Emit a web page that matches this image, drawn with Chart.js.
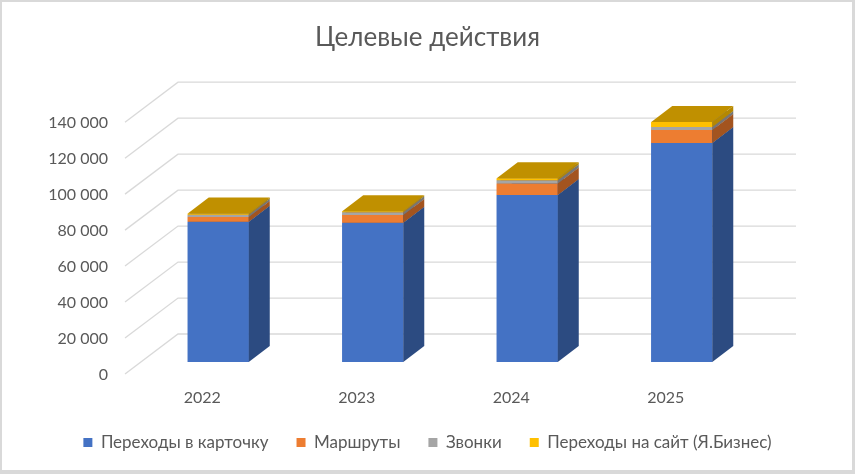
<!DOCTYPE html>
<html>
<head>
<meta charset="utf-8">
<script src="https://cdn.jsdelivr.net/npm/chart.js@4/dist/chart.umd.min.js"></script>
<style>
    html, body { margin: 0; padding: 0; background: #ffffff; }
    #wrap { width: 855px; height: 474px; }
</style>
</head>
<body>
<div id="wrap"><canvas id="chart-area-1" width="855" height="474"></canvas></div>
<script>
/******************************************************************************
* Chart data
******************************************************************************/
var years      = ["2022", "2023", "2024", "2025"];
var card_views = [78000, 77400, 92800, 121800];
var routes     = [2600, 4300, 6500, 7200];
var calls      = [1300, 1500, 1800, 1700];
var site_clicks = [600, 600, 1100, 2800];

var series_names = ["Переходы в карточку", "Маршруты", "Звонки", "Переходы на сайт (Я.Бизнес)"];

/******************************************************************************
* Styles
******************************************************************************/
var FONT       = "Lato, 'Open Sans', sans-serif";
var TEXT_COLOR = "#595959";
var GRID_COLOR = "#d9d9d9";

// faces: front, side, top
var colors = [
    ["#4472c4", "#2c4b81", "#30528e"],
    ["#ed7d31", "#a3541f", "#b25d24"],
    ["#a5a5a5", "#767676", "#7f7f7f"],
    ["#ffc000", "#b58800", "#c09000"]
];

// depth of a bar, and offsets of the floor front edge / back wall from the bar plane
var BAR_DX = 21, BAR_DY = -16;
var BACK_DX = 37, BACK_DY = -28;
var FRONT_DX = -16, FRONT_DY = 12;

function fmt_thousands(v) {
    return String(v).replace(/\B(?=(\d{3})+(?!\d))/g, ' ');
}

/******************************************************************************
* Background with the grey frame
******************************************************************************/
var frame_plugin = {
    id: 'frame',
    beforeDraw: function(chart) {
        var ctx = chart.ctx;
        ctx.save();
        ctx.fillStyle = "#d9d9d9";
        ctx.fillRect(0, 0, chart.width, chart.height);
        ctx.fillStyle = "#ffffff";
        ctx.fillRect(2, 2, chart.width - 5, chart.height - 6);
        ctx.restore();
    }
};

/******************************************************************************
* Back wall and floor gridlines (oblique 3D look)
******************************************************************************/
var grid_plugin = {
    id: 'grid3d',
    beforeDatasetsDraw: function(chart) {
        var ctx = chart.ctx;
        var y_scale = chart.scales.y;
        var area = chart.chartArea;
        ctx.save();
        ctx.strokeStyle = GRID_COLOR;
        ctx.lineWidth = 1.3;
        y_scale.ticks.forEach(function(t) {
            var py = y_scale.getPixelForValue(t.value);
            ctx.beginPath();
            ctx.moveTo(area.left + FRONT_DX, py + FRONT_DY);
            ctx.lineTo(area.left + BACK_DX, py + BACK_DY);
            ctx.lineTo(area.right + BACK_DX, py + BACK_DY);
            ctx.stroke();
        });
        ctx.restore();
    }
};

/******************************************************************************
* Draws each stacked segment as a box: front, right side and top
******************************************************************************/
function poly(ctx, pts, color) {
    ctx.fillStyle = color;
    ctx.beginPath();
    ctx.moveTo(pts[0][0], pts[0][1]);
    for (var i = 1; i < pts.length; i++) {
        ctx.lineTo(pts[i][0], pts[i][1]);
    }
    ctx.closePath();
    ctx.fill();
}

var box_plugin = {
    id: 'boxes3d',
    afterDatasetsDraw: function(chart) {
        var ctx = chart.ctx;
        ctx.save();
        chart.data.datasets.forEach(function(ds, di) {
            var meta = chart.getDatasetMeta(di);
            meta.data.forEach(function(bar) {
                var p = bar.getProps(['x', 'y', 'base', 'width'], true);
                var l = p.x - p.width / 2, r = p.x + p.width / 2;
                var top = p.y, bottom = p.base;
                var c = colors[di];
                poly(ctx, [[l, top], [r, top], [r, bottom], [l, bottom]], c[0]);
                poly(ctx, [[r, top], [r + BAR_DX, top + BAR_DY], [r + BAR_DX, bottom + BAR_DY], [r, bottom]], c[1]);
                poly(ctx, [[l, top], [l + BAR_DX, top + BAR_DY], [r + BAR_DX, top + BAR_DY], [r, top]], c[2]);
            });
        });
        ctx.restore();
    }
};

/******************************************************************************
* This creates the chart
******************************************************************************/
function create_chart() {

    var values = [card_views, routes, calls, site_clicks];
    var datasets = values.map(function(v, i) {
        return {
            label: series_names[i],
            data: v,
            backgroundColor: colors[i][0],
            borderWidth: 0,
            barPercentage: 0.79,
            categoryPercentage: 0.5
        };
    });

    var config = {
        type: 'bar',
        data: { labels: years, datasets: datasets },
        options: {
            responsive: false,
            animation: false,
            layout: { padding: { left: 0, right: 0, top: 0, bottom: 13 } },
            plugins: {
                title: {
                    display: true,
                    text: 'Целевые действия',
                    color: TEXT_COLOR,
                    font: { family: FONT, size: 26, weight: 'normal' },
                    padding: { top: 22, bottom: 57 }
                },
                legend: {
                    position: 'bottom',
                    labels: {
                        color: TEXT_COLOR,
                        font: { family: FONT, size: 17 },
                        boxWidth: 9,
                        boxHeight: 9,
                        padding: 28
                    }
                },
                tooltip: { enabled: false }
            },
            scales: {
                x: {
                    stacked: true,
                    grid: { display: false, drawTicks: false },
                    border: { display: false },
                    ticks: {
                        color: TEXT_COLOR,
                        font: { family: FONT, size: 16 },
                        padding: 26,
                        labelOffset: FRONT_DX
                    },
                    afterFit: function(s) { s.height = 44; }
                },
                y: {
                    stacked: true,
                    min: 0,
                    max: 140000,
                    grid: { display: false, drawTicks: false },
                    border: { display: false },
                    ticks: {
                        stepSize: 20000,
                        color: TEXT_COLOR,
                        font: { family: FONT, size: 16 },
                        padding: 33,
                        labelOffset: 13,
                        callback: function(v) { return fmt_thousands(v); }
                    },
                    afterFit: function(s) { s.width = 141; }
                },
                yRight: {
                    position: 'right',
                    display: true,
                    grid: { display: false, drawTicks: false },
                    border: { display: false },
                    ticks: { display: false },
                    afterFit: function(s) { s.width = 96; }
                }
            }
        },
        plugins: [frame_plugin, grid_plugin, box_plugin]
    };

    var ctx = document.getElementById("chart-area-1").getContext("2d");
    window.myBars = new Chart(ctx, config);
}

create_chart();
</script>
</body>
</html>
